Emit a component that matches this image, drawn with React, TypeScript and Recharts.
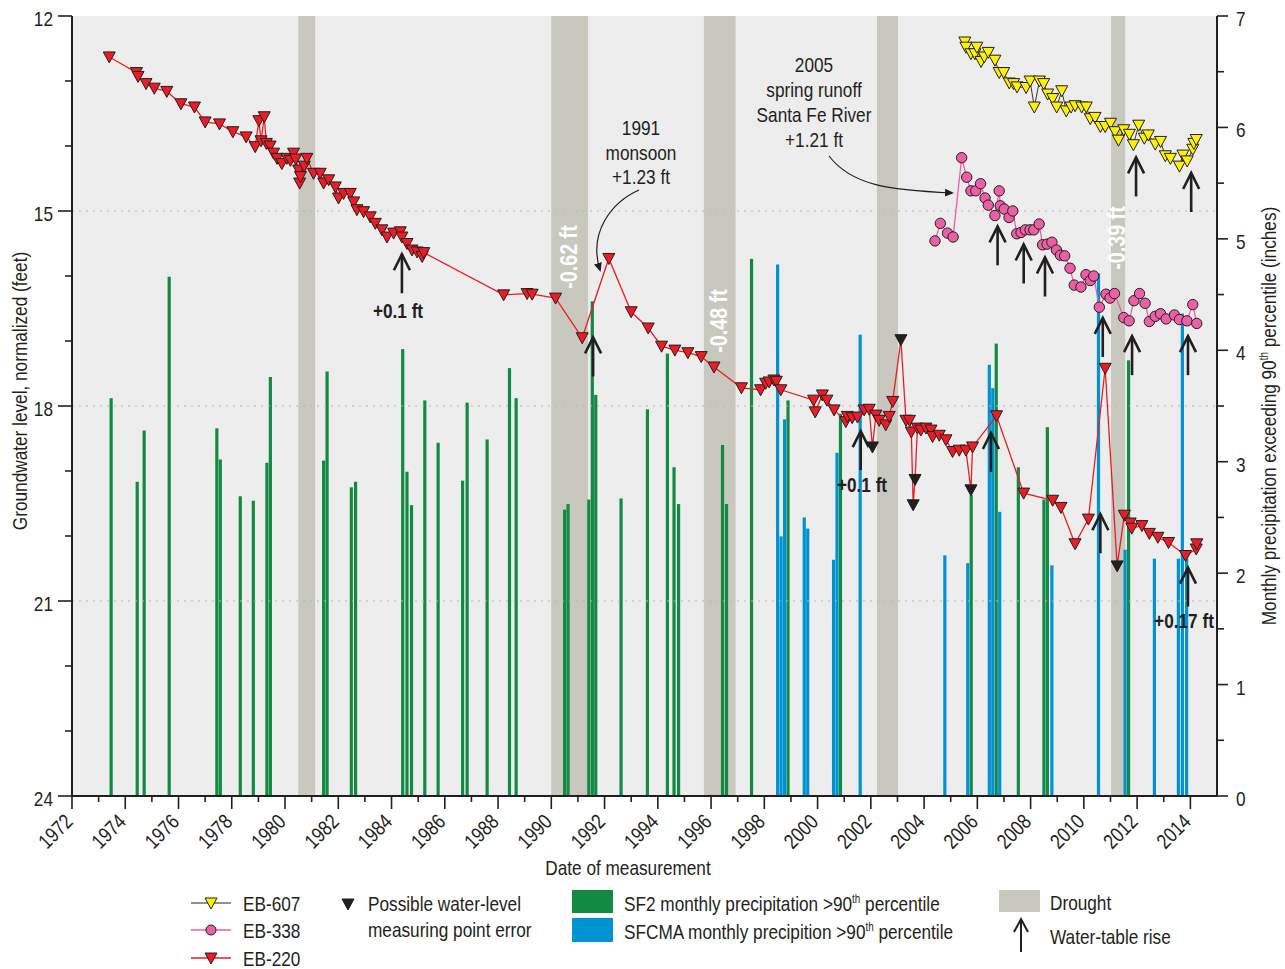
import React from "react";
import {
  ComposedChart,
  XAxis,
  YAxis,
  CartesianGrid,
  ReferenceArea,
  ReferenceLine,
  Bar,
  Line,
  Scatter,
} from "recharts";

const FONT = "'Liberation Sans', Arial, sans-serif";
const INK = "#231f20";
const RED = "#ed1c24";
const PINK = "#ec5fa4";
const YELLOW = "#fff200";
const GREEN = "#138a44";
const BLUE = "#0093d3";
const DROUGHT = "#c8c8bf";

// [decimal year, groundwater level ft]; third item 1 = possible measuring point error
const eb220: number[][] = [
  [1973.4, 12.63], [1974.42, 12.87], [1974.48, 12.93], [1974.78, 13.04], [1975.09, 13.11],
  [1975.56, 13.16], [1976.09, 13.35], [1976.6, 13.4], [1977.0, 13.63], [1977.54, 13.66],
  [1978.04, 13.78], [1978.54, 13.86], [1978.88, 14.01], [1979.02, 13.61], [1979.1, 13.92],
  [1979.22, 13.55], [1979.3, 13.96], [1979.44, 14.0], [1979.57, 14.11], [1979.7, 14.19],
  [1979.88, 14.27], [1980.07, 14.19], [1980.2, 14.22], [1980.32, 14.11], [1980.4, 14.2],
  [1980.51, 14.37], [1980.55, 14.57], [1980.58, 14.47], [1980.72, 14.31], [1980.82, 14.19],
  [1981.07, 14.42], [1981.32, 14.42], [1981.45, 14.57], [1981.64, 14.52], [1981.89, 14.63],
  [1982.01, 14.8], [1982.2, 14.73], [1982.45, 14.73], [1982.58, 14.86], [1982.7, 14.98],
  [1982.95, 15.01], [1983.2, 15.09], [1983.39, 15.19], [1983.64, 15.29], [1983.83, 15.4],
  [1984.08, 15.34], [1984.33, 15.32], [1984.39, 15.4], [1984.58, 15.5], [1984.77, 15.6],
  [1984.96, 15.63], [1985.15, 15.7], [1985.21, 15.64], [1988.21, 16.29], [1989.09, 16.27],
  [1989.28, 16.28], [1990.16, 16.34], [1991.16, 16.95], [1992.16, 15.73], [1993.0, 16.55],
  [1993.64, 16.8], [1994.14, 17.08], [1994.64, 17.14], [1995.13, 17.18], [1995.63, 17.24],
  [1996.11, 17.4], [1997.14, 17.72], [1997.86, 17.75], [1998.05, 17.65], [1998.18, 17.63],
  [1998.36, 17.6], [1998.45, 17.62], [1998.62, 17.75], [1999.85, 17.91], [1999.91, 18.09],
  [2000.18, 17.83], [2000.35, 17.91], [2000.62, 18.06], [2001.06, 18.24], [2001.12, 18.16],
  [2001.3, 18.18], [2001.5, 18.17], [2001.75, 18.06], [2001.94, 18.05], [2002.06, 18.63, 1],
  [2002.19, 18.14], [2002.31, 18.22], [2002.56, 18.29], [2002.69, 18.16], [2002.82, 17.93],
  [2003.13, 16.98, 1], [2003.32, 18.22], [2003.45, 18.22], [2003.52, 18.4], [2003.59, 19.52, 1],
  [2003.66, 19.13, 1], [2003.75, 18.34], [2003.88, 18.37], [2004.07, 18.34], [2004.26, 18.37],
  [2004.32, 18.47], [2004.57, 18.45], [2004.82, 18.52], [2005.07, 18.7], [2005.32, 18.68],
  [2005.57, 18.68], [2005.76, 19.29, 1], [2005.82, 18.63], [2006.72, 18.15], [2007.74, 19.34],
  [2008.83, 19.45], [2009.14, 19.56], [2009.67, 20.12], [2010.17, 19.74], [2010.8, 17.42],
  [2011.25, 20.46, 1], [2011.52, 19.68], [2011.74, 19.8], [2011.8, 19.88], [2012.18, 19.84],
  [2012.46, 19.96], [2012.78, 20.02], [2013.18, 20.1], [2013.82, 20.3], [2014.22, 20.2],
  [2014.24, 20.12],
];

const eb338: number[][] = [
  [2004.41, 15.46], [2004.61, 15.19], [2004.88, 15.34], [2005.09, 15.4], [2005.41, 14.18],
  [2005.6, 14.48], [2005.76, 14.69], [2005.94, 14.69], [2006.12, 14.58], [2006.29, 14.8],
  [2006.41, 14.91], [2006.66, 15.07], [2006.82, 14.69], [2006.86, 14.92], [2007.01, 14.97],
  [2007.19, 15.1], [2007.33, 15.0], [2007.48, 15.35], [2007.64, 15.33], [2007.8, 15.29],
  [2007.98, 15.29], [2008.12, 15.29], [2008.32, 15.2], [2008.45, 15.52], [2008.62, 15.51],
  [2008.8, 15.48], [2008.97, 15.6], [2009.12, 15.68], [2009.28, 15.69], [2009.48, 15.88],
  [2009.64, 16.14], [2009.89, 16.17], [2010.08, 15.98], [2010.24, 16.07], [2010.37, 16.0],
  [2010.58, 16.48], [2010.83, 16.28], [2010.98, 16.34], [2011.15, 16.27], [2011.5, 16.64],
  [2011.7, 16.69], [2011.88, 16.38], [2012.09, 16.27], [2012.3, 16.42], [2012.46, 16.7],
  [2012.68, 16.62], [2012.88, 16.58], [2013.09, 16.66], [2013.4, 16.6], [2013.59, 16.67],
  [2013.87, 16.69], [2014.09, 16.44], [2014.24, 16.73],
];

const eb607: number[][] = [
  [2005.53, 12.4], [2005.57, 12.48], [2005.76, 12.58], [2005.91, 12.58], [2005.98, 12.48],
  [2006.14, 12.7], [2006.26, 12.63], [2006.41, 12.56], [2006.66, 12.68], [2006.82, 12.87],
  [2006.99, 12.87], [2007.2, 13.03], [2007.36, 13.04], [2007.49, 13.09], [2007.83, 13.1],
  [2007.98, 13.0], [2008.14, 13.4], [2008.33, 13.0], [2008.49, 13.04], [2008.64, 13.2],
  [2008.83, 13.27], [2008.98, 13.4], [2009.17, 13.15], [2009.34, 13.46], [2009.52, 13.4],
  [2009.67, 13.38], [2009.92, 13.4], [2010.09, 13.4], [2010.24, 13.58], [2010.42, 13.56],
  [2010.62, 13.7], [2010.8, 13.7], [2011.0, 13.65], [2011.17, 13.78], [2011.3, 13.91],
  [2011.5, 13.75], [2011.71, 13.82], [2011.86, 13.98], [2012.06, 13.68], [2012.27, 13.88],
  [2012.42, 13.83], [2012.68, 13.97], [2012.88, 13.93], [2013.06, 14.15], [2013.25, 14.19],
  [2013.59, 14.31], [2013.72, 14.14], [2013.88, 14.23], [2014.09, 14.05], [2014.13, 13.96],
  [2014.22, 13.9],
];

// monthly precipitation above the 90th percentile: [decimal year, inches]
const sf2Precip = [
  [1973.47, 3.57], [1974.45, 2.82], [1974.71, 3.28], [1975.65, 4.66], [1977.44, 3.3],
  [1977.57, 3.02], [1978.32, 2.69], [1978.81, 2.65], [1979.32, 2.99], [1979.45, 3.76],
  [1981.45, 3.01], [1981.58, 3.81], [1982.49, 2.77], [1982.65, 2.82], [1984.42, 4.01],
  [1984.58, 2.91], [1984.75, 2.61], [1985.25, 3.55], [1985.75, 3.17], [1986.67, 2.83],
  [1986.84, 3.53], [1987.59, 3.2], [1988.43, 3.84], [1988.68, 3.57], [1990.5, 2.57],
  [1990.63, 2.62], [1991.41, 2.66], [1991.54, 4.44], [1991.67, 3.6], [1992.62, 2.67],
  [1993.61, 3.47], [1994.36, 3.97], [1994.61, 2.95], [1994.78, 2.62], [1996.43, 3.15],
  [1996.58, 2.62], [1997.52, 4.82], [1998.89, 3.55], [2000.86, 3.43], [2005.77, 2.7],
  [2006.71, 4.06], [2007.54, 2.95], [2008.5, 2.66], [2008.63, 3.31], [2011.68, 3.91],
];
const sfcmaPrecip = [
  [1998.5, 4.77], [1998.63, 2.33], [1998.76, 3.38], [1999.5, 2.5], [1999.63, 2.4],
  [2000.6, 2.12], [2000.73, 3.08], [2001.6, 4.14], [2004.78, 2.16], [2005.64, 2.09],
  [2006.45, 3.87], [2006.58, 3.66], [2006.84, 2.55], [2008.8, 2.07], [2010.55, 4.69],
  [2011.55, 2.21], [2012.65, 2.13], [2013.55, 2.13], [2013.7, 4.33], [2013.86, 2.13],
];

const droughtStart = [1980.5, 1990.0, 1995.73, 2002.23, 2011.02];
const droughtEnd = [1981.13, 1991.38, 1996.92, 2003.02, 2011.55];

// tips of the water-table rise arrows
const riseYear = [1984.39, 1991.57, 2001.62, 2006.51, 2006.76, 2007.74, 2008.54, 2010.62, 2010.71, 2011.81, 2011.96, 2013.91, 2013.91, 2014.03];
const riseLevel = [15.65, 16.93, 18.37, 18.4, 15.22, 15.5, 15.7, 19.65, 16.63, 16.91, 14.16, 16.91, 20.47, 14.4];

const yearTicks = Array.from({ length: 43 }, (_, i) => 1972 + i);
const levelTicks = Array.from({ length: 13 }, (_, i) => 12 + i);
const precipTicks = Array.from({ length: 15 }, (_, i) => i * 0.5);

const toRows = (arr: number[][]) => arr.map(([year, level, bad]) => ({ year, level, bad: bad === 1 }));
const precipRows = [
  ...sf2Precip.map(([year, v]) => ({ year, sf2: v })),
  ...sfcmaPrecip.map(([year, v]) => ({ year, sfcma: v })),
].sort((a, b) => a.year - b.year);
const riseRows = riseYear.map((year, i) => ({ year, level: riseLevel[i] }));

const triPath = (cx: number, cy: number) => `M${cx - 6},${cy - 5} L${cx + 6},${cy - 5} L${cx},${cy + 6} Z`;

// no narrow font installed: squeeze Liberation Sans to Arial Narrow proportions
function NText({ x, y, anchor = "start", size = 21, rotate = 0, bold = false, fill = INK, children }: any) {
  return (
    <text transform={`translate(${x} ${y}) rotate(${rotate}) scale(0.82 1)`} x={0} y={0} textAnchor={anchor}
      fontSize={size} fontFamily={FONT} fontWeight={bold ? "bold" : "normal"} fill={fill}>
      {children}
    </text>
  );
}

const Sup = ({ children }: any) => (
  <>
    <tspan fontSize={12} dy={-8}>th</tspan>
    <tspan dy={8}>{children}</tspan>
  </>
);

function XTick({ x, y, payload }: any) {
  const v = payload.value as number;
  const major = v % 2 === 0;
  return (
    <g>
      <line x1={x} x2={x} y1={y} y2={y + (major ? 13 : 6)} stroke={INK} strokeWidth={1.6} />
      {major && <NText x={x + 2} y={y + 27} rotate={-45} anchor="end">{v}</NText>}
    </g>
  );
}

function LeftTick({ x, y, payload }: any) {
  const v = payload.value as number;
  const major = v % 3 === 0;
  return (
    <g>
      <line x1={x} x2={x - (major ? 14 : 7)} y1={y} y2={y} stroke={INK} strokeWidth={1.6} />
      {major && <NText x={x - 19} y={y + 10} anchor="end">{v}</NText>}
    </g>
  );
}

function RightTick({ x, y, payload }: any) {
  const v = payload.value as number;
  const major = Number.isInteger(v);
  return (
    <g>
      <line x1={x} x2={x + (major ? 11 : 7)} y1={y} y2={y} stroke={INK} strokeWidth={1.6} />
      {major && <NText x={x + 19} y={y + 10}>{v}</NText>}
    </g>
  );
}

const barShape = (color: string) => (p: any) => {
  if (!p.height || p.height <= 0) return <g />;
  const cx = p.x + p.width / 2;
  return <rect x={cx - 1.6} y={p.y} width={3.2} height={p.height} fill={color} />;
};

const triDot = (p: any) => (
  <path key={`t${p.index}`} d={triPath(p.cx, p.cy)} fill={p.payload.bad ? INK : RED} stroke={INK} strokeWidth={1} />
);
const yellowDot = (p: any) => (
  <path key={`y${p.index}`} d={triPath(p.cx, p.cy)} fill={YELLOW} stroke={INK} strokeWidth={1} />
);
const pinkDot = (p: any) => (
  <circle key={`c${p.index}`} cx={p.cx} cy={p.cy} r={5.2} fill={PINK} stroke={INK} strokeWidth={1} />
);

const riseArrow = (p: any) => {
  const { cx, cy } = p;
  return (
    <g>
      <line x1={cx} x2={cx} y1={cy + 1} y2={cy + 40} stroke={INK} strokeWidth={2.6} />
      <polyline points={`${cx - 8},${cy + 17} ${cx},${cy + 1} ${cx + 8},${cy + 17}`} fill="none" stroke={INK} strokeWidth={2.6} />
    </g>
  );
};

function Overlay() {
  return (
    <svg width={1285} height={969} style={{ position: "absolute", left: 0, top: 0, pointerEvents: "none" }}>
      <defs>
        <marker id="ah" markerWidth="9" markerHeight="8" refX="7" refY="4" orient="auto" markerUnits="userSpaceOnUse">
          <path d="M0,0 L9,4 L0,8 Z" fill={INK} />
        </marker>
      </defs>

      {/* axis titles */}
      <NText x={27} y={391} rotate={-90} anchor="middle">Groundwater level, normalized (feet)</NText>
      <NText x={1276} y={416} rotate={-90} anchor="middle">
        Monthly precipitation exceeding 90<Sup> percentile (inches)</Sup>
      </NText>
      <NText x={628} y={875} anchor="middle">Date of measurement</NText>

      {/* drought labels */}
      <NText x={577} y={257} rotate={-90} anchor="middle" size={24} bold fill="#ffffff">-0.62 ft</NText>
      <NText x={727} y={321} rotate={-90} anchor="middle" size={24} bold fill="#ffffff">-0.48 ft</NText>
      <NText x={1125} y={238} rotate={-90} anchor="middle" size={24} bold fill="#ffffff">-0.39 ft</NText>

      {/* annotations */}
      <NText x={641} y={135} anchor="middle">1991</NText>
      <NText x={641} y={160} anchor="middle">monsoon</NText>
      <NText x={641} y={184} anchor="middle">+1.23 ft</NText>
      <NText x={814} y={72} anchor="middle">2005</NText>
      <NText x={814} y={97} anchor="middle">spring runoff</NText>
      <NText x={814} y={122} anchor="middle">Santa Fe River</NText>
      <NText x={814} y={147} anchor="middle">+1.21 ft</NText>
      <path d="M639,190 C612,202 588,232 600,270" fill="none" stroke={INK} strokeWidth={1.2} markerEnd="url(#ah)" />
      <path d="M829,156 C852,186 890,190 952,193" fill="none" stroke={INK} strokeWidth={1.2} markerEnd="url(#ah)" />

      <NText x={398} y={318} anchor="middle" bold>+0.1 ft</NText>
      <NText x={862} y={492} anchor="middle" bold>+0.1 ft</NText>
      <NText x={1184} y={628} anchor="middle" bold>+0.17 ft</NText>

      {/* legend */}
      <line x1={191} x2={231} y1={903} y2={903} stroke={INK} strokeWidth={1} />
      <path d={triPath(211, 903)} fill={YELLOW} stroke={INK} strokeWidth={1} />
      <NText x={243} y={911}>EB-607</NText>
      <line x1={191} x2={231} y1={930} y2={930} stroke={PINK} strokeWidth={1.5} />
      <circle cx={211} cy={930} r={5} fill={PINK} stroke={INK} strokeWidth={1} />
      <NText x={243} y={938}>EB-338</NText>
      <line x1={191} x2={231} y1={958} y2={958} stroke={RED} strokeWidth={1.5} />
      <path d={triPath(211, 958)} fill={RED} stroke={INK} strokeWidth={1} />
      <NText x={243} y={966}>EB-220</NText>

      <path d={triPath(348, 904)} fill={INK} stroke={INK} strokeWidth={1} />
      <NText x={368} y={911}>Possible water-level</NText>
      <NText x={368} y={937}>measuring point error</NText>

      <rect x={572} y={890} width={41} height={23} fill={GREEN} />
      <NText x={624} y={911}>SF2 monthly precipitation &gt;90<Sup> percentile</Sup></NText>
      <rect x={572} y={918} width={41} height={24} fill={BLUE} />
      <NText x={624} y={939}>SFCMA monthly precipition &gt;90<Sup> percentile</Sup></NText>

      <rect x={999} y={890} width={41} height={22} fill={DROUGHT} />
      <NText x={1050} y={910}>Drought</NText>
      <line x1={1021} x2={1021} y1={919} y2={952} stroke={INK} strokeWidth={2} />
      <polyline points="1014,932 1021,919 1028,932" fill="none" stroke={INK} strokeWidth={2} />
      <NText x={1050} y={944}>Water-table rise</NText>
    </svg>
  );
}

export default function App() {
  return (
    <div style={{ position: "absolute", left: 0, top: 0, width: 1285, height: 969, background: "#ffffff", fontFamily: FONT }}>
      <ComposedChart width={1285} height={969} data={precipRows} margin={{ top: 16, right: 0, bottom: 0, left: 0 }}>
        <CartesianGrid yAxisId="left" fill="#ededed" horizontal={false} vertical={false} />
        <XAxis dataKey="year" type="number" domain={[1972, 2015]} ticks={yearTicks} interval={0}
          allowDataOverflow height={173} tickSize={0} tickMargin={0} tickLine={false}
          axisLine={{ stroke: INK, strokeWidth: 2 }} tick={(p: any) => <XTick {...p} />} />
        <YAxis yAxisId="left" type="number" domain={[12, 24]} reversed ticks={levelTicks} interval={0}
          allowDataOverflow width={72} tickSize={0} tickMargin={0} tickLine={false}
          axisLine={{ stroke: INK, strokeWidth: 2 }} tick={(p: any) => <LeftTick {...p} />} />
        <YAxis yAxisId="right" orientation="right" type="number" domain={[0, 7]} ticks={precipTicks} interval={0}
          allowDataOverflow width={68} tickSize={0} tickMargin={0} tickLine={false}
          axisLine={{ stroke: INK, strokeWidth: 2 }} tick={(p: any) => <RightTick {...p} />} />

        {[15, 18, 21].map((v) => (
          <ReferenceLine key={v} yAxisId="left" y={v} stroke="#b8b8b8" strokeDasharray="2 5" strokeWidth={1.2} />
        ))}
        {droughtStart.map((s, i) => (
          <ReferenceArea key={s} yAxisId="left" x1={s} x2={droughtEnd[i]} fill={DROUGHT} fillOpacity={1} stroke="none" />
        ))}

        <Bar yAxisId="right" dataKey="sf2" stackId="p" fill={GREEN} barSize={3} shape={barShape(GREEN)} isAnimationActive={false} />
        <Bar yAxisId="right" dataKey="sfcma" stackId="p" fill={BLUE} barSize={3} shape={barShape(BLUE)} isAnimationActive={false} />

        <Line yAxisId="left" data={toRows(eb220)} dataKey="level" type="linear" stroke={RED} strokeWidth={1.3}
          dot={triDot} activeDot={false} isAnimationActive={false} />
        <Line yAxisId="left" data={toRows(eb338)} dataKey="level" type="linear" stroke={PINK} strokeWidth={1.3}
          dot={pinkDot} activeDot={false} isAnimationActive={false} />
        <Line yAxisId="left" data={toRows(eb607)} dataKey="level" type="linear" stroke={INK} strokeWidth={0.9}
          dot={yellowDot} activeDot={false} isAnimationActive={false} />
        <Scatter yAxisId="left" data={riseRows} dataKey="level" shape={riseArrow} isAnimationActive={false} />
      </ComposedChart>
      <Overlay />
    </div>
  );
}
